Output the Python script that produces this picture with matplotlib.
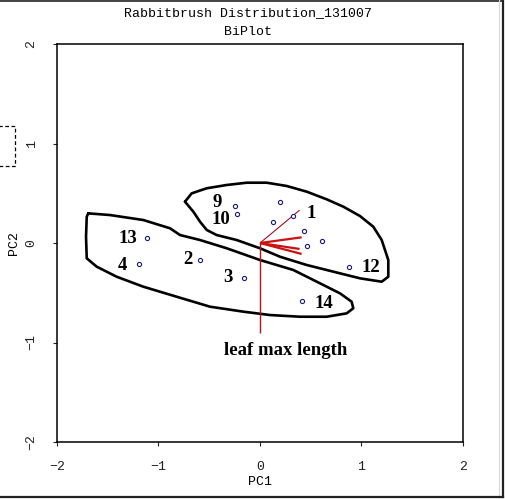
import matplotlib
matplotlib.use("Agg")
import matplotlib.pyplot as plt
from matplotlib.patches import Rectangle
from matplotlib.lines import Line2D

# ---------------- data ----------------
pc1 = [-0.246, -0.224, 0.197, 0.125, 0.328, 0.433, 0.614, 0.463, 0.877,
       -0.591, -0.158, 0.411, -1.110, -1.192]
pc2 = [0.375, 0.288, 0.415, 0.208, 0.274, 0.124, 0.023, -0.027, -0.241,
       -0.171, -0.349, -0.583, 0.053, -0.214]
point_labels = ["9", "10", "", "", "1", "", "", "", "12",
                "2", "3", "14", "13", "4"]

vec_x = [0.39, 0.41, 0.39, 0.41, 0.0]
vec_y = [0.33, 0.057, -0.06, -0.11, -0.90]
vec_name = "leaf max length"

upper_x = [-0.739, -0.673, -0.525, -0.328, -0.131, 0.066, 0.263, 0.460, 0.657,
           0.821, 0.985, 1.116, 1.199, 1.264, 1.264, 1.199, 0.985, 0.722, 0.460,
           0.197, 0.0, -0.230, -0.427, -0.525, -0.591, -0.657, -0.739]
upper_y = [0.415, 0.499, 0.550, 0.583, 0.606, 0.606, 0.573, 0.516, 0.439,
           0.365, 0.271, 0.164, 0.030, -0.171, -0.339, -0.389, -0.355, -0.288, -0.221,
           -0.138, -0.053, 0.030, 0.080, 0.131, 0.214, 0.315, 0.415]
lower_x = [-1.692, -1.478, -1.150, -0.887, -0.788, -0.591, -0.328, 0.0, 0.328,
           0.591, 0.788, 0.903, 0.919, 0.854, 0.657, 0.394, 0.099, -0.165, -0.493,
           -0.821, -1.150, -1.412, -1.609, -1.707, -1.714, -1.707, -1.692]
lower_y = [0.298, 0.281, 0.231, 0.148, 0.080, 0.030, -0.053, -0.171, -0.271,
           -0.405, -0.506, -0.590, -0.656, -0.707, -0.741, -0.741, -0.724, -0.690, -0.640,
           -0.540, -0.439, -0.339, -0.238, -0.154, 0.063, 0.264, 0.298]

ticks = [-2, -1, 0, 1, 2]
title1 = "Rabbitbrush Distribution_131007"
title2 = "BiPlot"
xlabel = "PC1"
ylabel = "PC2"

# label offsets (pixels) - styling
label_offsets = {"9": (-18, 3), "10": (-16, -5), "1": (18, 2), "12": (22, -1),
                 "14": (22, -2), "2": (-12, 1), "3": (-16, 0), "13": (-19, -1),
                 "4": (-17, -1)}

# ---------------- figure ----------------
W, H = 506, 499
fig = plt.figure(figsize=(W / 100, H / 100), dpi=100)
ax = fig.add_axes([57 / W, 1 - 442 / H, (463 - 57) / W, (442 - 44) / H])
ax.set_xlim(-2, 2)
ax.set_ylim(-2, 2)

mono = ["Liberation Mono", "DejaVu Sans Mono"]
serif = ["Liberation Serif", "DejaVu Serif"]

ax.set_xticks(ticks)
ax.set_yticks(ticks)
ax.set_xticklabels([str(t).replace("-", "\u2212") for t in ticks], family=mono, fontsize=9.5)
ax.set_yticklabels([str(t).replace("-", "\u2212") for t in ticks], family=mono, fontsize=9.5,
                   rotation=90, va="center")
ax.tick_params(axis="x", length=3, width=0.8, pad=11, colors="#222222")
ax.tick_params(axis="y", length=3, width=0.8, pad=11, colors="#222222")
for s in ax.spines.values():
    s.set_linewidth(1.1)
    s.set_color("black")

ax.set_xlabel(xlabel, family=mono, fontsize=9.5, labelpad=2)
ax.set_ylabel(ylabel, family=mono, fontsize=9.5, labelpad=4)

fig.text(248 / W, 1 - 13 / H, title1, family=mono, fontsize=9.5, ha="center", va="center")
fig.text(248 / W, 1 - 32 / H, title2, family=mono, fontsize=9.5, ha="center", va="center")

# hand-drawn outlines
ax.plot(upper_x, upper_y, color="black", lw=1.9, solid_joinstyle="round", solid_capstyle="round")
ax.plot(lower_x, lower_y, color="black", lw=1.9, solid_joinstyle="round", solid_capstyle="round")

# vectors
vec_lw = [0.8, 1.6, 1.6, 1.6, 1.0]
vec_col = ["#a0101e", "#cc1111", "#cc1111", "#cc1111", "#b0141e"]
for vx, vy, lw, c in zip(vec_x, vec_y, vec_lw, vec_col):
    ax.plot([0, vx], [0, vy], color=c, lw=lw, solid_capstyle="butt")
ax.text(0.25, vec_y[-1] * 1.205, vec_name, family=serif, fontweight="bold",
        fontsize=13.5, ha="center", va="center")

# points
ax.plot(pc1, pc2, linestyle="none", marker="o", markersize=3.0, markerfacecolor="white",
        markeredgecolor="#1a1a8c", markeredgewidth=0.8)

for x, y, lab in zip(pc1, pc2, point_labels):
    if lab:
        dx, dy = label_offsets[lab]
        ax.annotate(lab, (x, y), xytext=(dx, dy), textcoords="offset pixels",
                    family=serif, fontweight="bold", fontsize=13.5,
                    ha="center", va="center")

# window decorations
fig.patches.append(Rectangle((-5 / W, 1 - 166 / H), 20 / W, 40 / H, transform=fig.transFigure,
                             fill=False, edgecolor="black", lw=0.9, linestyle=(0, (3, 2))))
fig.lines.append(Line2D([0, 503 / W], [1 - 0.8 / H, 1 - 0.8 / H], transform=fig.transFigure,
                        color="#222222", lw=1.2))
fig.lines.append(Line2D([503 / W, 503 / W], [1 - 497 / H, 1], transform=fig.transFigure,
                        color="#222222", lw=1.6))
fig.lines.append(Line2D([499 / W, 499 / W], [1 - 497 / H, 1], transform=fig.transFigure,
                        color="#d8d8d8", lw=0.8))
fig.lines.append(Line2D([0, 503 / W], [1 - 497 / H, 1 - 497 / H], transform=fig.transFigure,
                        color="#222222", lw=1.6))

fig.savefig("out.png", dpi=100)
